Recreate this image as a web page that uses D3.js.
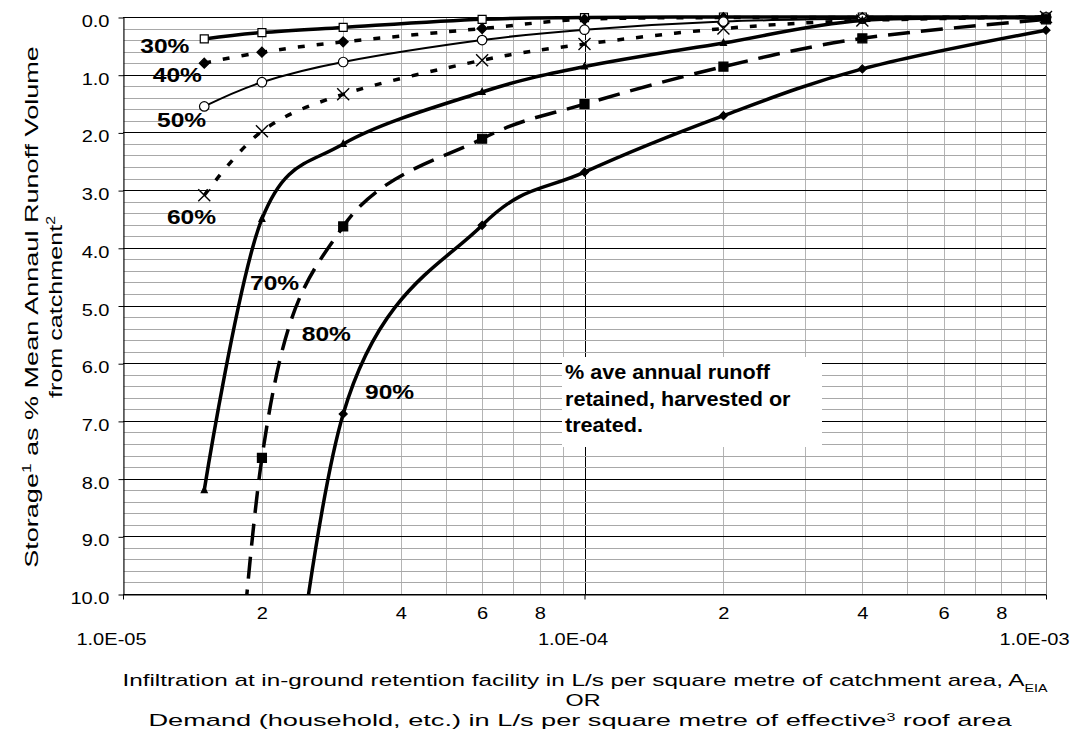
<!DOCTYPE html>
<html>
<head>
<meta charset="utf-8">
<script src="https://cdn.jsdelivr.net/npm/d3@7"></script>
<style>
body{margin:0;background:#fff}
text{font-family:"Liberation Sans",Arial,sans-serif;fill:#000}
</style>
</head>
<body>
<svg></svg>
<script>
// flow values (L/s per m2) where every curve has a point
var xValues = [1.5e-5, 2e-5, 3e-5, 6e-5, 1e-4, 2e-4, 4e-4, 1e-3]
var seriesNames = ["30%", "40%", "50%", "60%", "70%", "80%", "90%"]

// storage as % of mean annual runoff volume
var s30 = [0.38, 0.27, 0.18, 0.04, 0.01, 0.0, 0.0, 0.0]
var s40 = [0.80, 0.61, 0.43, 0.20, 0.04, 0.01, 0.01, 0.0]
var s50 = [1.55, 1.13, 0.78, 0.40, 0.22, 0.08, 0.03, 0.01]
var s60 = [3.09, 1.98, 1.34, 0.75, 0.47, 0.20, 0.06, 0.0]
var s70 = [8.2, 3.5, 2.2, 1.3, 0.86, 0.45, 0.06, 0.02]
var s80 = [20, 7.64, 3.63, 2.11, 1.51, 0.86, 0.37, 0.04]
var s90 = [null, 16.5, 6.88, 3.61, 2.69, 1.71, 0.9, 0.23]

var yTicks = [0, 1, 2, 3, 4, 5, 6, 7, 8, 9, 10]
var yTickLabels = ["0.0", "1.0", "2.0", "3.0", "4.0", "5.0", "6.0", "7.0", "8.0", "9.0", "10.0"]
var xMinorTicks = [2e-5, 4e-5, 6e-5, 8e-5, 2e-4, 4e-4, 6e-4, 8e-4]
var xMinorLabels = ["2", "4", "6", "8", "2", "4", "6", "8"]
var xDecadeTicks = [1e-5, 1e-4, 1e-3]
var xDecadeLabels = ["1.0E-05", "1.0E-04", "1.0E-03"]

var seriesValues = [s30, s40, s50, s60, s70, s80, s90]

var svg = d3.select("svg").attr("width", 1087).attr("height", 740)

var x = d3.scaleLog().domain([1e-5, 1e-3]).range([123, 1046])
var y = d3.scaleLinear().domain([0, 10]).range([17, 594])

// grid
var grid = svg.append("g")
x.ticks().forEach(function(t){
  var major = Math.abs(t - 1e-4) < 1e-12
  var px = Math.round(x(t)) + 0.5
  grid.append("line").attr("x1", px).attr("x2", px).attr("y1", y(0)).attr("y2", y(10))
    .attr("stroke", major ? "#000" : (t >= 9.9e-4 ? "#8c8c8c" : "#b4b4b4")).attr("stroke-width", 1)
})
d3.range(0, 51).forEach(function(i){
  var v = i / 5
  var py = Math.round(y(v)) + 0.5
  grid.append("line").attr("x1", x(1e-5)).attr("x2", x(1e-3)).attr("y1", py).attr("y2", py)
    .attr("stroke", i % 5 == 0 ? "#000" : "#a8a8a8").attr("stroke-width", 1)
})

// axes
var yAxis = svg.append("g").attr("transform", "translate(" + (Math.round(x(1e-5)) + 0.5) + ",0)")
  .call(d3.axisLeft(y).tickValues(yTicks).tickSize(5).tickSizeOuter(0)
    .tickFormat(function(d, i){ return yTickLabels[i] }))
yAxis.select(".domain").attr("stroke", "#000")
yAxis.selectAll(".tick line").attr("transform", "translate(0,0.5)")
yAxis.selectAll("text").attr("font-size", 17).attr("x", null).attr("dy", null)
  .attr("font-family", null)
  .attr("transform", "translate(-14,9.5) scale(1.18,1)")

var xAxisY = Math.round(y(10)) + 0.5
var xAxis1 = svg.append("g").attr("transform", "translate(0," + xAxisY + ")")
  .call(d3.axisBottom(x).tickValues(xMinorTicks).tickSize(0).tickSizeOuter(0)
    .tickFormat(function(d, i){ return xMinorLabels[i] }))
xAxis1.select(".domain").attr("stroke", "#000")
xAxis1.selectAll("text").attr("font-size", 17).attr("y", null).attr("dy", null)
  .attr("font-family", null)
  .attr("transform", "translate(0,24.5) scale(1.18,1)")

var xAxis2 = svg.append("g").attr("transform", "translate(0," + xAxisY + ")")
  .call(d3.axisBottom(x).tickValues(xDecadeTicks).tickSize(5).tickSizeOuter(0)
    .tickFormat(function(d, i){ return xDecadeLabels[i] }))
xAxis2.select(".domain").remove()
xAxis2.selectAll("text").attr("font-size", 17).attr("y", null).attr("dy", null)
  .attr("font-family", null)
  .attr("transform", "translate(-12,50) scale(1.18,1)")

// series
var styles = {
  "30%": {w: 3.5, dash: null, mk: "square", fill: "#fff", s: 8},
  "40%": {w: 3.5, dash: "7,12", mk: "diamond", fill: "#000", s: 10},
  "50%": {w: 2, dash: null, mk: "circle", fill: "#fff", s: 9.5},
  "60%": {w: 3.5, dash: "7,12", mk: "x", fill: "none", s: 12},
  "70%": {w: 3.5, dash: null, mk: "triangle", fill: "#000", s: 6},
  "80%": {w: 3.5, dash: "22,11", mk: "square", fill: "#000", s: 9},
  "90%": {w: 3.5, dash: null, mk: "diamond", fill: "#000", s: 8}
}
function markerPath(mk, s){
  var h = s / 2
  if (mk == "square") return "M" + (-h) + "," + (-h) + "h" + s + "v" + s + "h" + (-s) + "Z"
  if (mk == "diamond") return "M0," + (-h) + "L" + h + ",0L0," + h + "L" + (-h) + ",0Z"
  if (mk == "circle") return d3.symbol(d3.symbolCircle, Math.PI * h * h)()
  if (mk == "x") return "M" + (-h) + "," + (-h) + "L" + h + "," + h + "M" + (-h) + "," + h + "L" + h + "," + (-h)
  return "M0," + (-s * 0.6) + "L" + h + "," + (s * 0.4) + "L" + (-h) + "," + (s * 0.4) + "Z"
}

svg.append("clipPath").attr("id", "plot").append("rect")
  .attr("x", x(1e-5)).attr("y", y(0) - 8).attr("width", x(1e-3) - x(1e-5) + 8).attr("height", y(10) - y(0) + 8)

var series = seriesNames.map(function(n, i){
  return {name: n, pts: xValues.map(function(xv, j){ return {x: xv, v: seriesValues[i][j]} })
    .filter(function(p){ return p.v != null })}
})

var line = d3.line().x(function(d){ return x(d.x) }).y(function(d){ return y(d.v) }).curve(d3.curveCardinal)

var gs = svg.selectAll("g.series").data(series).enter().append("g").attr("class", "series")
gs.append("path")
  .attr("d", function(d){ return line(d.pts) })
  .attr("clip-path", "url(#plot)")
  .attr("fill", "none").attr("stroke", "#000")
  .attr("stroke-width", function(d){ return styles[d.name].w })
  .attr("stroke-dasharray", function(d){ return styles[d.name].dash })
  .attr("stroke-linejoin", "round")
gs.selectAll("path.mk").data(function(d){ return d.pts.filter(function(p){ return p.v <= 10 }).map(function(p){ return {p: p, st: styles[d.name]} }) })
  .enter().append("path").attr("class", "mk")
  .attr("transform", function(d){ return "translate(" + x(d.p.x) + "," + y(d.p.v) + ")" })
  .attr("d", function(d){ return markerPath(d.st.mk, d.st.s) })
  .attr("fill", function(d){ return d.st.fill })
  .attr("stroke", "#000").attr("stroke-width", function(d){ return d.st.mk == "x" ? 1.4 : 1.2 })

// curve labels, positioned in data units
var labelPos = [[1.09e-5, 0.62], [1.16e-5, 1.13], [1.185e-5, 1.91], [1.245e-5, 3.58], [1.885e-5, 4.74], [2.44e-5, 5.61], [3.345e-5, 6.615]]
svg.selectAll("text.pct").data(seriesNames).enter().append("text").attr("class", "pct")
  .attr("transform", function(d, i){ return "translate(" + x(labelPos[i][0]) + "," + y(labelPos[i][1]) + ") scale(1.17,1)" })
  .attr("font-size", 21).attr("font-weight", "bold").text(function(d){ return d })

// annotation box
var note = ["% ave annual runoff", "retained, harvested or", "treated."]
svg.append("rect").attr("x", 562).attr("y", 357).attr("width", 260).attr("height", 90).attr("fill", "#fff")
svg.selectAll("text.note").data(note).enter().append("text").attr("class", "note")
  .attr("transform", function(d, i){ return "translate(565," + (379 + i * 26.7) + ") scale(1.08,1)" })
  .attr("font-size", 20).attr("font-weight", "bold").text(function(d){ return d })

// axis titles, stretched horizontally to the width they have in the picture
function fit(t, cx, cy, rot, target){
  var w = t.node().getComputedTextLength()
  t.attr("transform", "translate(" + cx + "," + cy + ")" + (rot ? " rotate(-90)" : "") + " scale(" + (target / w) + ",1)")
}
var yt1 = svg.append("text").attr("text-anchor", "middle").attr("font-size", 19)
yt1.append("tspan").text("Storage")
yt1.append("tspan").attr("baseline-shift", "super").attr("font-size", 12).text("1")
yt1.append("tspan").text(" as % Mean Annaul Runoff Volume")
fit(yt1, 38, 307, true, 522)
var yt2 = svg.append("text").attr("text-anchor", "middle").attr("font-size", 19)
yt2.append("tspan").text("from catchment")
yt2.append("tspan").attr("baseline-shift", "super").attr("font-size", 12).text("2")
fit(yt2, 62, 307, true, 182)

var xt1 = svg.append("text").attr("text-anchor", "middle").attr("font-size", 17)
xt1.append("tspan").text("Infiltration at in-ground retention facility in L/s per square metre of catchment area, A")
xt1.append("tspan").attr("baseline-shift", "sub").attr("font-size", 10).text("EIA")
fit(xt1, 585, 686, false, 926)
var xt2 = svg.append("text").attr("text-anchor", "middle").attr("font-size", 17).text("OR")
fit(xt2, 583, 706, false, 35)
var xt3 = svg.append("text").attr("text-anchor", "middle").attr("font-size", 17)
xt3.append("tspan").text("Demand (household, etc.) in L/s per square metre of effective")
xt3.append("tspan").attr("baseline-shift", "super").attr("font-size", 10).text("3")
xt3.append("tspan").text(" roof area")
fit(xt3, 580, 726, false, 864)
</script>
</body>
</html>
